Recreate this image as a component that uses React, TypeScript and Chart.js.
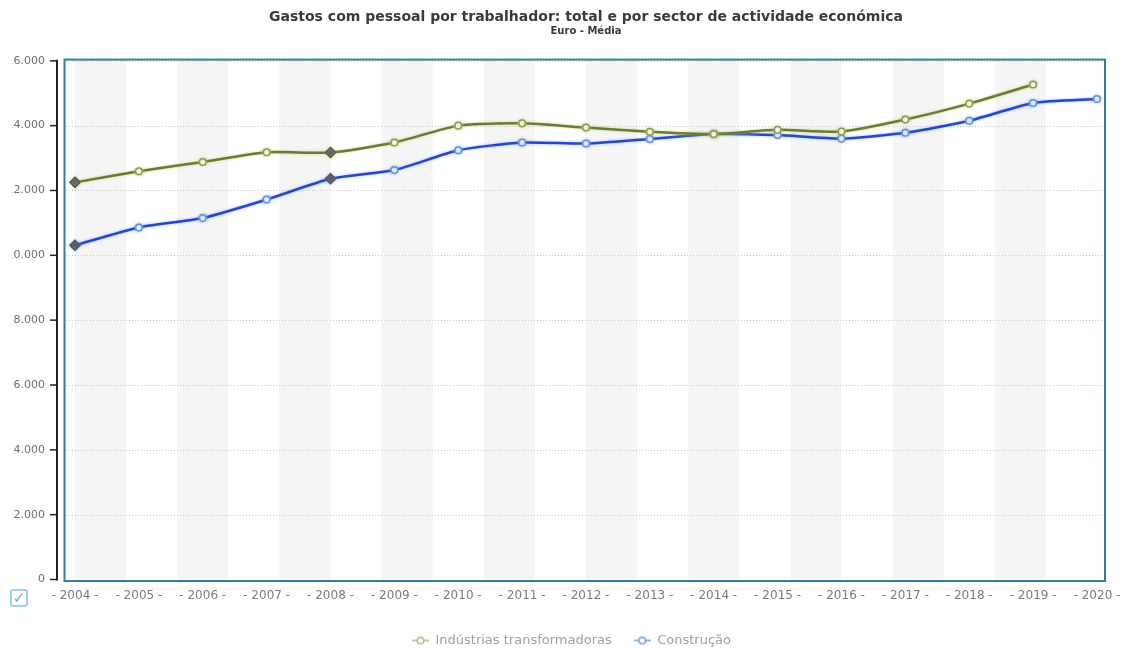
import React, { useEffect, useRef } from "react";
import { Chart, registerables } from "chart.js";

Chart.register(...registerables);

// Years on the horizontal axis
const years = [
  "2004", "2005", "2006", "2007", "2008", "2009", "2010", "2011", "2012",
  "2013", "2014", "2015", "2016", "2017", "2018", "2019", "2020",
];

// Average personnel costs per worker (euro)
const industriasTransformadoras = [
  12250, 12590, 12880, 13180, 13170, 13480, 14000, 14070, 13940,
  13810, 13740, 13870, 13820, 14190, 14680, 15270, null,
];
const construcao = [
  10310, 10860, 11150, 11720, 12360, 12630, 13240, 13480, 13450,
  13590, 13740, 13710, 13600, 13780, 14150, 14700, 14820,
];

// Years flagged with a series-break marker
const breakYears = ["2004", "2008"];

const seriesLabels = ["Indústrias transformadoras", "Construção"];

const TITLE = "Gastos com pessoal por trabalhador: total e por sector de actividade económica";
const SUBTITLE = "Euro - Média";

const Y_MAX = 16000;
const Y_STEP = 2000;
const BAND_COUNT = 20;

const FONT = "'DejaVu Sans', Verdana, sans-serif";

const formatThousands = (v: number) =>
  v === 0 ? "0" : Math.round(v).toString().replace(/\B(?=(\d{3})+(?!\d))/g, ".");

// Small "-o-" glyph used as the legend symbol
function legendGlyph(stroke: string): HTMLCanvasElement {
  const c = document.createElement("canvas");
  c.width = 17;
  c.height = 10;
  const g = c.getContext("2d")!;
  g.strokeStyle = stroke;
  g.lineWidth = 1.5;
  g.beginPath();
  g.moveTo(0, 5);
  g.lineTo(17, 5);
  g.stroke();
  g.fillStyle = "#ffffff";
  g.beginPath();
  g.arc(8.5, 5, 3.3, 0, Math.PI * 2);
  g.fill();
  g.stroke();
  return c;
}

const plotDecor = {
  id: "plotDecor",
  beforeDatasetsDraw(chart: any) {
    const { ctx, chartArea: a, scales } = chart;
    const y = scales.y;
    ctx.save();

    // alternating vertical bands
    const bw = a.width / BAND_COUNT;
    ctx.fillStyle = "#f5f5f5";
    for (let i = 0; i < BAND_COUNT; i += 2) {
      ctx.fillRect(a.left + i * bw, a.top, bw, a.height);
    }

    // dotted horizontal grid
    ctx.strokeStyle = "#c8c8c8";
    ctx.lineWidth = 1;
    ctx.setLineDash([1, 2]);
    y.ticks.forEach((t: any) => {
      const py = Math.round(y.getPixelForValue(t.value)) + 0.5;
      ctx.beginPath();
      ctx.moveTo(a.left - 9, py);
      ctx.lineTo(a.right + 7, py);
      ctx.stroke();
    });
    ctx.setLineDash([]);

    // plot frame
    ctx.strokeStyle = "#2e8099";
    ctx.lineWidth = 2;
    ctx.strokeRect(a.left - 10.5, a.top - 1.2, a.width + 18.5, a.height + 2.7);

    // value axis line and tick marks
    ctx.strokeStyle = "#222222";
    ctx.lineWidth = 2;
    const ax = a.left - 18;
    ctx.beginPath();
    ctx.moveTo(ax, y.getPixelForValue(Y_MAX) - 1);
    ctx.lineTo(ax, y.getPixelForValue(0) + 1);
    ctx.stroke();
    ctx.lineWidth = 1.5;
    y.ticks.forEach((t: any) => {
      const py = y.getPixelForValue(t.value);
      ctx.beginPath();
      ctx.moveTo(ax - 7, py);
      ctx.lineTo(ax, py);
      ctx.stroke();
    });
    ctx.restore();
  },
  beforeDatasetDraw(chart: any, args: any) {
    const ctx = chart.ctx;
    ctx.save();
    ctx.shadowColor = args.index === 0 ? "rgba(190,205,120,0.8)" : "rgba(120,160,240,0.7)";
    ctx.shadowBlur = 3;
  },
  afterDatasetDraw(chart: any) {
    chart.ctx.restore();
  },
};

export default function App() {
  const canvasRef = useRef<HTMLCanvasElement | null>(null);

  useEffect(() => {
    const canvas = canvasRef.current;
    if (!canvas) return;

    const lineColors = ["#6b7b30", "#2346d9"];
    const pointBorders = ["#8e9a52", "#5d92ef"];
    const isBreak = (i: number) => breakYears.includes(years[i]);

    const makeDataset = (label: string, data: (number | null)[], k: number) => ({
      label,
      data,
      borderColor: lineColors[k],
      backgroundColor: "#ffffff",
      borderWidth: 2.5,
      tension: 0.2,
      pointStyle: (c: any) => (isBreak(c.dataIndex) ? "rectRot" : "circle"),
      pointRadius: (c: any) => (isBreak(c.dataIndex) ? 5 : 3.3),
      pointBackgroundColor: (c: any) => (isBreak(c.dataIndex) ? "#555555" : "#ffffff"),
      pointBorderColor: (c: any) => (isBreak(c.dataIndex) ? "#555555" : pointBorders[k]),
      pointBorderWidth: 1.5,
    });

    const glyphs = [legendGlyph("#b3bb80"), legendGlyph("#6e9cf0")];

    const chart = new Chart(canvas, {
      type: "line",
      data: {
        labels: years,
        datasets: [
          makeDataset(seriesLabels[0], industriasTransformadoras, 0),
          makeDataset(seriesLabels[1], construcao, 1),
        ],
      },
      options: {
        responsive: false,
        animation: false,
        events: [],
        layout: { padding: { left: 0, right: 0, top: 0, bottom: 5 } },
        font: { family: FONT },
        scales: {
          x: {
            type: "category",
            offset: false,
            grid: { display: false, drawTicks: false },
            border: { display: false },
            ticks: {
              padding: 9,
              color: "#7a7a7a",
              font: { family: FONT, size: 12 },
              maxRotation: 0,
              autoSkip: false,
              callback: function (this: any, value: any) {
                return "- " + this.getLabelForValue(value) + " -";
              },
            },
            afterFit: (s: any) => {
              s.height = 32.5;
            },
          },
          y: {
            min: 0,
            max: Y_MAX,
            grid: { display: false, drawTicks: false },
            border: { display: false },
            ticks: {
              stepSize: Y_STEP,
              padding: 30,
              color: "#6f6f6f",
              font: { family: FONT, size: 11 },
              callback: (v: any) => formatThousands(Number(v)),
            },
            afterFit: (s: any) => {
              s.width = 85;
            },
          },
          // empty right-hand gutter beside the plot
          gutter: {
            type: "linear",
            position: "right",
            display: true,
            grid: { display: false, drawTicks: false },
            border: { display: false },
            ticks: { display: false },
            afterFit: (s: any) => {
              s.width = 56;
            },
          },
        },
        plugins: {
          title: {
            display: true,
            text: TITLE,
            fullSize: false,
            color: "#3a3a3a",
            font: { family: FONT, size: 14, weight: "bold" },
            padding: { top: 9, bottom: 0 },
          },
          subtitle: {
            display: true,
            text: SUBTITLE,
            fullSize: false,
            color: "#3a3a3a",
            font: { family: FONT, size: 10, weight: "bold" },
            padding: { top: 0, bottom: 23 },
          },
          legend: {
            display: true,
            position: "bottom",
            labels: {
              usePointStyle: true,
              pointStyleWidth: 17,
              padding: 22,
              color: "#a0a0a0",
              font: { family: FONT, size: 13 },
              generateLabels: (c: any) =>
                c.data.datasets.map((ds: any, i: number) => ({
                  text: ds.label,
                  fillStyle: "#ffffff",
                  strokeStyle: lineColors[i],
                  lineWidth: 0,
                  pointStyle: glyphs[i],
                  hidden: false,
                  datasetIndex: i,
                  fontColor: "#a0a0a0",
                })),
            },
          },
          tooltip: { enabled: false },
        },
      },
      plugins: [plotDecor],
    });

    return () => chart.destroy();
  }, []);

  return (
    <div
      style={{
        position: "fixed",
        left: 0,
        top: 0,
        width: 1123,
        height: 648,
        overflow: "hidden",
        background: "#ffffff",
      }}
    >
      <div
        style={{
          position: "absolute",
          left: 12,
          top: 0,
          width: 1111,
          height: 648,
          overflow: "hidden",
        }}
      >
        <canvas
          ref={canvasRef}
          width={1163}
          height={662}
          style={{ position: "absolute", left: -22, top: 0, width: 1163, height: 662 }}
        />
      </div>
      <div
        style={{
          position: "absolute",
          left: 10,
          top: 589,
          width: 14,
          height: 14,
          border: "2px solid #9fd0ee",
          borderRadius: 3,
          color: "#5ab0e6",
          fontFamily: FONT,
          fontSize: 15,
          fontWeight: "bold",
          lineHeight: "15px",
          textAlign: "center",
        }}
      >
        ✓
      </div>
    </div>
  );
}
